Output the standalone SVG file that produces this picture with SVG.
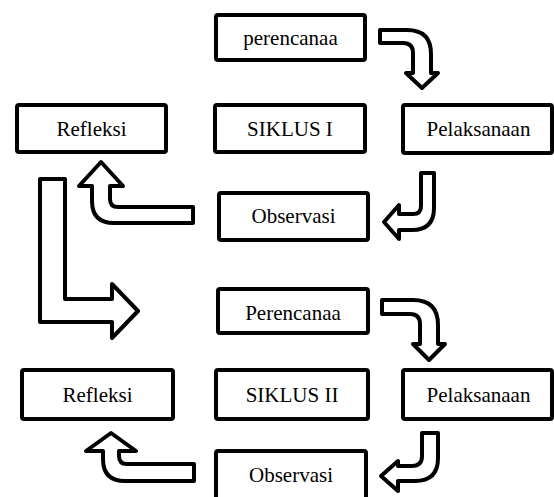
<svg xmlns="http://www.w3.org/2000/svg" width="554" height="497" viewBox="0 0 554 497">
<style>
.box{fill:#fff;stroke:#000;stroke-width:4;}
.lbl{font-family:"Liberation Serif","Times New Roman",serif;font-size:21px;fill:#000;text-anchor:middle;}
.arr{fill:#fff;stroke:#000;stroke-width:4;stroke-linejoin:round;}
</style>
<rect width="554" height="497" fill="#fff"/>
<g id="connectors">
<path class="arr" d="M380,30 H407 Q431,30 431,54 V73 H438 L422,88 L406,73 H413 V53 Q413,43 403,43 H380 Z"/>
<path class="arr" d="M421,173 H434 V208 Q434,230 412,230 H399 V239 L384,222 L399,205 V214 H413 Q421,214 421,206 Z"/>
<path class="arr" d="M193,207 V223 H114 Q92,223 92,201 V186 H79 L101,162 L123,186 H110 V199 Q110,207 118,207 Z"/>
<path class="arr" d="M40,179 H65 V299 H112 V284 L138,311 L112,338 V322 H40 Z"/>
<path class="arr" d="M382,300 H413 Q438,300 438,325 V344 H445 L429,360 L413,344 H420 V324 Q420,314 410,314 H382 Z"/>
<path class="arr" d="M422,433 H438 V458 Q438,481 415,481 H398 V491 L381,476 L398,461 V466 H412 Q422,466 422,456 Z"/>
<path class="arr" d="M194,464 V481 H125 Q103,481 103,459 V451 H86 L111,433 L136,451 H119 V456 Q119,464 127,464 Z"/>
</g>
<g id="perencanaa1"><rect class="box" x="216" y="15" width="149" height="45" rx="2"/><text class="lbl" x="290.5" y="45">perencanaa</text></g>
<g id="refleksi1"><rect class="box" x="17" y="105" width="149" height="47" rx="2"/><text class="lbl" x="91.5" y="136">Refleksi</text></g>
<g id="siklus1"><rect class="box" x="215" y="105" width="150" height="47" rx="2"/><text class="lbl" x="290" y="136">SIKLUS I</text></g>
<g id="pelaksanaan1"><rect class="box" x="403" y="105" width="149" height="48" rx="2"/><text class="lbl" x="478.5" y="136">Pelaksanaan</text></g>
<g id="observasi1"><rect class="box" x="219" y="193" width="149" height="47" rx="2"/><text class="lbl" x="293.5" y="223">Observasi</text></g>
<g id="perencanaa2"><rect class="box" x="218" y="289" width="150" height="44" rx="2"/><text class="lbl" x="293" y="320">Perencanaa</text></g>
<g id="refleksi2"><rect class="box" x="22" y="370" width="151" height="49" rx="2"/><text class="lbl" x="97.5" y="402">Refleksi</text></g>
<g id="siklus2"><rect class="box" x="216" y="370" width="152" height="49" rx="2"/><text class="lbl" x="292" y="402">SIKLUS II</text></g>
<g id="pelaksanaan2"><rect class="box" x="403" y="370" width="149" height="49" rx="2"/><text class="lbl" x="478.5" y="402">Pelaksanaan</text></g>
<g id="observasi2"><rect class="box" x="216" y="451" width="150" height="55" rx="2"/><text class="lbl" x="291" y="482">Observasi</text></g>
</svg>
